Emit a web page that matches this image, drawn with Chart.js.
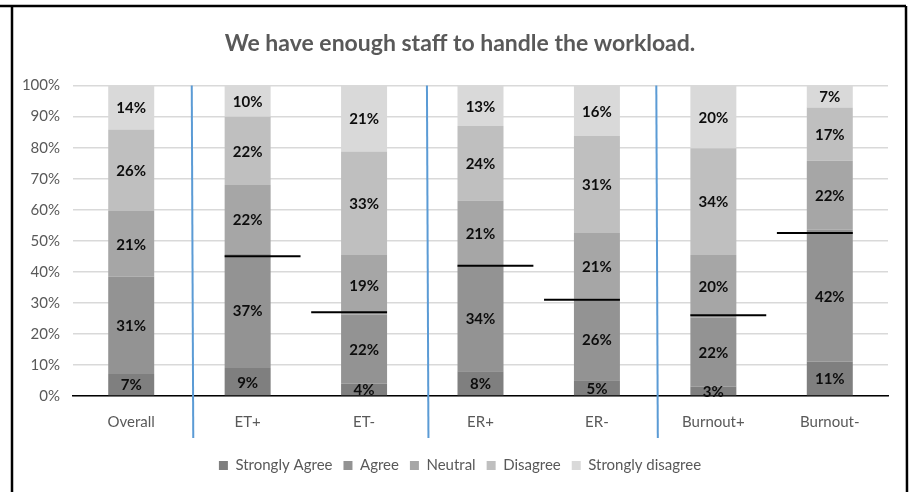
<!DOCTYPE html>
<html>
<head>
<meta charset="utf-8">
<script src="https://cdn.jsdelivr.net/npm/chart.js@4"></script>
<style>
  html, body { margin: 0; padding: 0; background: #ffffff; }
  #wrap { width: 910px; height: 492px; position: relative; }
</style>
</head>
<body>
<div id="wrap"><canvas id="c" width="910" height="492"></canvas></div>
<script>
// ---- data ----
const categories = ['Overall', 'ET+', 'ET-', 'ER+', 'ER-', 'Burnout+', 'Burnout-'];
const seriesNames = ['Strongly Agree', 'Agree', 'Neutral', 'Disagree', 'Strongly disagree'];
const stronglyAgree    = [7, 9, 4, 8, 5, 3, 11];
const agree            = [31, 37, 22, 34, 26, 22, 42];
const neutral          = [21, 22, 19, 21, 21, 20, 22];
const disagree         = [26, 22, 33, 24, 31, 34, 17];
const stronglyDisagree = [14, 10, 21, 13, 16, 20, 7];
// comparison markers (black horizontal lines), percent
const markerValues = [null, 45, 27, 42, 31, 26, 52.5];
// blue group separators, as category positions
const separatorPositions = [0.52, 2.54, 4.51];
const yTicks = [0, 10, 20, 30, 40, 50, 60, 70, 80, 90, 100];

const seriesValues = [stronglyAgree, agree, neutral, disagree, stronglyDisagree];
const colors = ['#7f7f7f', '#939393', '#a6a6a6', '#bfbfbf', '#d9d9d9'];

// 100% stacked: each column is scaled to its own total
const totals = categories.map((_, i) => seriesValues.reduce((s, arr) => s + arr[i], 0));
const datasets = seriesValues.map((arr, k) => ({
  label: seriesNames[k],
  data: arr.map((v, i) => v / totals[i] * 100),
  raw: arr,
  backgroundColor: colors[k],
  borderWidth: 0,
  barPercentage: 0.395,
  categoryPercentage: 1.0,
  stack: 's'
}));

const FONT = "Lato, 'Open Sans', sans-serif";

const overlayPlugin = {
  id: 'overlay',
  afterDatasetsDraw(chart) {
    const ctx = chart.ctx;
    const ys = chart.scales.y;
    // data labels
    ctx.save();
    ctx.font = 'bold 15px ' + FONT;
    ctx.fillStyle = '#0d0d0d';
    ctx.textAlign = 'center';
    ctx.textBaseline = 'middle';
    chart.data.datasets.forEach((ds, di) => {
      const meta = chart.getDatasetMeta(di);
      meta.data.forEach((el, i) => {
        const p = el.getProps(['x', 'y', 'base'], true);
        ctx.fillText(ds.raw[i] + '%', p.x, (p.y + p.base) / 2 + 1);
      });
    });
    ctx.restore();
    // marker lines
    ctx.save();
    ctx.strokeStyle = '#000000';
    ctx.lineWidth = 2;
    const meta0 = chart.getDatasetMeta(0);
    markerValues.forEach((v, i) => {
      if (v === null) return;
      const el = meta0.data[i];
      const p = el.getProps(['x', 'width'], true);
      const left = p.x - p.width / 2, right = p.x + p.width / 2;
      const ext = p.width * 0.65;
      const y = ys.getPixelForValue(v);
      ctx.beginPath();
      if (i % 2 === 1) { ctx.moveTo(left, y); ctx.lineTo(right + ext, y); }
      else { ctx.moveTo(left - ext, y); ctx.lineTo(right, y); }
      ctx.stroke();
    });
    ctx.restore();
  },
  afterDraw(chart) {
    const ctx = chart.ctx;
    const xs = chart.scales.x, ys = chart.scales.y;
    // blue separators
    ctx.save();
    ctx.strokeStyle = '#5b9bd5';
    ctx.lineWidth = 2;
    separatorPositions.forEach(pos => {
      const x = xs.getPixelForValue(pos);
      ctx.beginPath();
      ctx.moveTo(x, ys.top);
      ctx.lineTo(x + 1.5, ys.bottom + 42);
      ctx.stroke();
    });
    ctx.restore();
    // frame
    ctx.save();
    ctx.strokeStyle = '#000000';
    ctx.lineWidth = 2.5;
    ctx.beginPath();
    ctx.moveTo(0, 6); ctx.lineTo(906, 6);
    ctx.moveTo(12, 6); ctx.lineTo(12, 492);
    ctx.moveTo(906, 6); ctx.lineTo(907, 492);
    ctx.stroke();
    ctx.restore();
  }
};

new Chart(document.getElementById('c'), {
  type: 'bar',
  data: { labels: categories, datasets },
  plugins: [overlayPlugin],
  options: {
    responsive: false,
    animation: false,
    layout: { padding: { left: 10, right: 0, top: 0, bottom: 9 } },
    plugins: {
      title: {
        display: true,
        text: 'We have enough staff to handle the workload.',
        color: '#595959',
        font: { family: FONT, size: 23, weight: 'bold', lineHeight: 1.2 },
        padding: { top: 30, bottom: 28 }
      },
      legend: {
        display: true,
        position: 'bottom',
        labels: {
          color: '#595959',
          font: { family: FONT, size: 15 },
          boxWidth: 9,
          boxHeight: 9,
          padding: 11
        }
      },
      tooltip: { enabled: false }
    },
    scales: {
      x: {
        stacked: true,
        grid: { display: false, drawTicks: false },
        border: { display: true, color: '#000000', width: 1.5 },
        ticks: { color: '#595959', font: { family: FONT, size: 15 }, padding: 17 },
        afterFit(scale) { scale.height = 51; }
      },
      y: {
        stacked: true,
        min: 0, max: 100,
        afterBuildTicks(scale) { scale.ticks = yTicks.map(v => ({ value: v })); },
        grid: { color: '#d9d9d9', lineWidth: 1.5, drawTicks: false },
        border: { display: false },
        ticks: {
          color: '#595959',
          font: { family: FONT, size: 15 },
          padding: 13,
          callback: v => v + '%'
        },
        afterFit(scale) { scale.width = 63; }
      },
      yRight: {
        type: 'linear',
        position: 'right',
        display: true,
        grid: { display: false, drawTicks: false },
        border: { display: false },
        ticks: { display: false },
        afterFit(scale) { scale.width = 22; }
      }
    }
  }
});
</script>
</body>
</html>
